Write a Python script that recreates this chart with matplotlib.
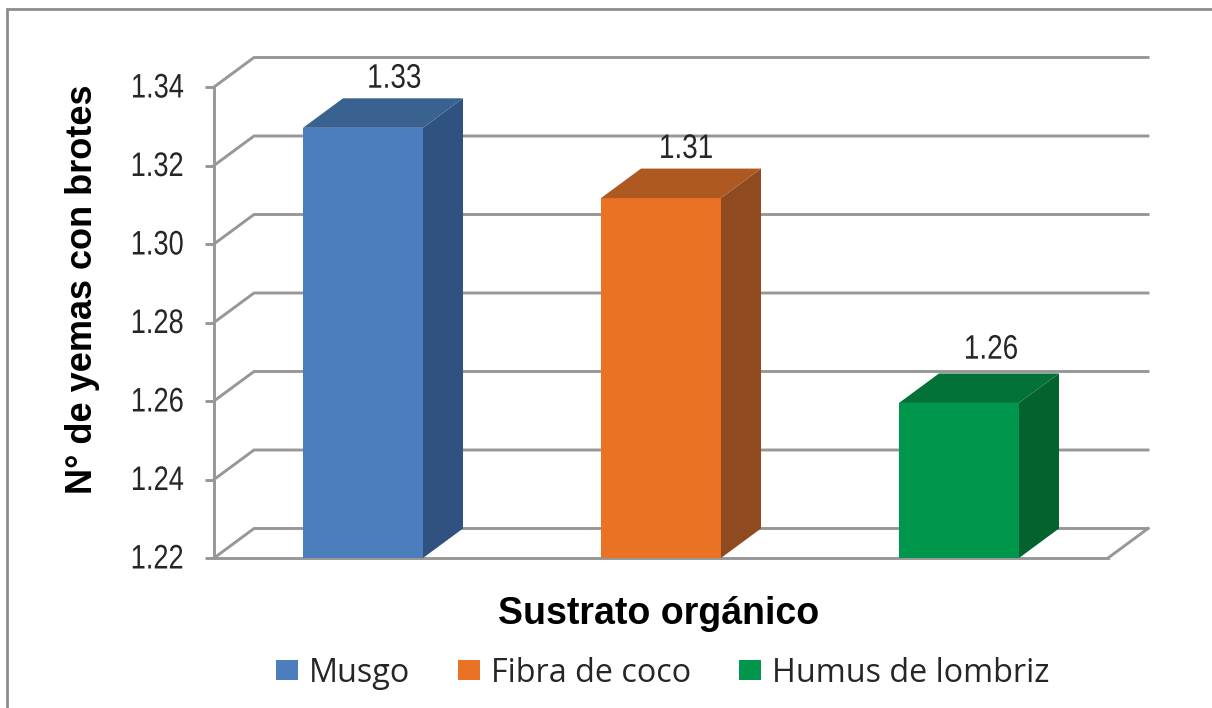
import matplotlib
matplotlib.use("Agg")
import matplotlib.pyplot as plt
from matplotlib.lines import Line2D
from matplotlib.patches import Patch
from matplotlib.patheffects import AbstractPathEffect
from matplotlib.transforms import Affine2D

categories = ["Musgo", "Fibra de coco", "Humus de lombriz"]
values = [1.3296, 1.3117, 1.2595]
value_labels = ["1.33", "1.31", "1.26"]
front_colors = ["#4c7ebd", "#e97225", "#00964b"]
top_colors = ["#3a6291", "#ae5822", "#037238"]
side_colors = ["#2f5280", "#8f4a1f", "#04622f"]
y_ticks = [1.22, 1.24, 1.26, 1.28, 1.30, 1.32, 1.34]
label_offsets = [(22.5, 35), (18, 35), (23, 38)]

W, H = 1212, 708
GRID = "#979797"
TEXT = "#262626"


class Squeeze(AbstractPathEffect):
    """Narrow a text horizontally, keeping it real text."""

    def __init__(self, sx, anchor="center", up=0):
        self.sx, self.anchor, self.up = sx, anchor, up

    def draw_path(self, renderer, gc, tpath, affine, rgbFace=None):
        ext = tpath.get_extents(affine)
        x0 = ext.x1 if self.anchor == "right" else (ext.x0 + ext.x1) / 2
        t = Affine2D().translate(-x0, 0).scale(self.sx, 1).translate(x0, self.up)
        renderer.draw_path(gc, tpath, affine + t, rgbFace)


fig = plt.figure(figsize=(W / 100, H / 100), dpi=100, facecolor="white")
ax = fig.add_axes([214 / W, 1 - 558 / H, (1108 - 214) / W, (558 - 87) / H])
ax.set_xlim(-0.5, 2.5)
ax.set_ylim(1.22, 1.34)
ax.patch.set_alpha(0)

dx = 40 / 298
dy = 29.5 / 471 * 0.12
bar_w = 120 / 298

# back wall gridlines and side-wall diagonals
for t in y_ticks:
    ax.plot([-0.5, -0.5 + dx, 2.5 + dx], [t, t + dy, t + dy], color=GRID, lw=2.1,
            clip_on=False, zorder=1, solid_joinstyle="miter")
ax.plot([2.5, 2.5 + dx], [1.22, 1.22 + dy], color=GRID, lw=2.1, clip_on=False, zorder=1)

# bars
for i, v in enumerate(values):
    l, r = i - bar_w / 2, i + bar_w / 2
    ax.bar(i, v - 1.22, bottom=1.22, width=bar_w, color=front_colors[i], zorder=3, clip_on=False)
    ax.fill([r, r + dx, r + dx, r], [1.22, 1.22 + dy, v + dy, v], color=side_colors[i],
            lw=0, zorder=3, clip_on=False)
    ax.fill([l, l + dx, r + dx, r], [v, v + dy, v + dy, v], color=top_colors[i],
            lw=0, zorder=3, clip_on=False)
    ann = ax.annotate(value_labels[i], (i, v), xytext=label_offsets[i], textcoords="offset points",
                      ha="center", va="center", fontsize=24.5, family="Liberation Sans", color=TEXT,
                      annotation_clip=False, zorder=5)
    ann.set_path_effects([Squeeze(0.82)])

# front axes
for s in ["top", "right"]:
    ax.spines[s].set_visible(False)
for s in ["left", "bottom"]:
    ax.spines[s].set_color(GRID)
    ax.spines[s].set_linewidth(2.1)
    ax.spines[s].set_zorder(2)
ax.set_xticks([])
ax.set_yticks(y_ticks)
ax.set_yticklabels([f"{t:.2f}" for t in y_ticks], family="Liberation Sans", fontsize=24.5, color=TEXT)
ax.tick_params(axis="y", length=6.5, width=2.1, color=GRID, pad=15)
for lab in ax.get_yticklabels():
    lab.set_path_effects([Squeeze(0.8, anchor="right", up=1.5)])

fig.text(83 / W, 1 - 289 / H, "N° de yemas con brotes", rotation=90, ha="center", va="center",
         family="Liberation Sans", fontweight="bold", fontsize=26, color="black")
fig.text(659 / W, 1 - 614 / H, "Sustrato orgánico", ha="center", va="center",
         family="Liberation Sans", fontweight="bold", fontsize=27, color="black")

handles = [Patch(facecolor=c, edgecolor="none", label=n) for c, n in zip(front_colors, categories)]
fig.legend(handles=handles, ncol=3, loc="center", bbox_to_anchor=(663 / W, 1 - 673 / H),
           frameon=False, prop={"family": "Open Sans", "size": 23.3}, labelcolor=TEXT,
           handlelength=0.68, handleheight=0.59, handletextpad=0.34, columnspacing=1.48,
           borderpad=0, borderaxespad=0)

# chart-area frame (left and top edges visible in the crop)
fig.add_artist(Line2D([6.5 / W, 6.5 / W, 1], [0, 1 - 9.3 / H, 1 - 9.3 / H], color="#8c8c8c", lw=2,
                      solid_joinstyle="miter"))

fig.savefig("out.png", dpi=100, facecolor="white")
